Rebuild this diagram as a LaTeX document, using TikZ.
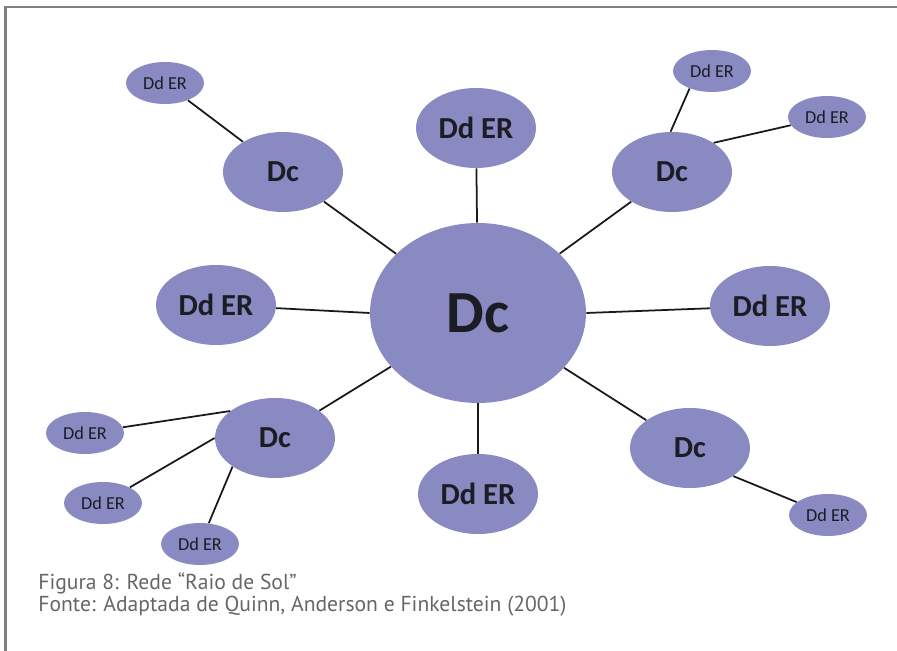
\documentclass[tikz,border=0pt]{standalone}
\usepackage{fontspec}
\setmainfont{Carlito}
\newfontfamily\capfont{PT Sans}
\usetikzlibrary{shapes.geometric}
\definecolor{sol}{RGB}{138,138,194}
\definecolor{ink}{RGB}{28,28,36}
\tikzset{>=latex,
  blob/.style={ellipse, fill=sol, inner sep=0pt, text=ink},
  hub/.style={blob, minimum width=4.32cm, minimum height=3.6cm, font=\fontsize{34}{34}\bfseries},
  mid/.style={blob, minimum width=2.4cm, minimum height=1.6cm, font=\fontsize{17.4}{18}\bfseries},
  leaf/.style={blob, minimum width=1.56cm, minimum height=0.84cm, font=\fontsize{10.4}{11}\selectfont},
  ray/.style={draw=black!90, line width=1pt},
  caption/.style={anchor=base west, text=black!60, font=\capfont\fontsize{12.3}{13}\selectfont, inner sep=0pt}}

\begin{document}
\begin{tikzpicture}[x=0.02cm, y=-0.02cm]
\useasboundingbox (0,0) rectangle (897,651);
\draw[gray, line width=1.3pt] (897,7) -- (5.5,7) -- (5.5,651);
\node[hub] (dc) at (478,313) {Dc};
\node[mid] (top) at (476,128) {Dd ER};
\node[mid] (left) at (216,305) {Dd ER};
\node[mid] (right) at (770,306) {Dd ER};
\node[mid] (bottom) at (478,494) {Dd ER};
\node[mid] (dctl) at (283,172) {Dc};
\node[mid] (dctr) at (672,172) {Dc};
\node[mid] (dcbl) at (275,438) {Dc};
\node[mid] (dcbr) at (690,448) {Dc};
\node[leaf] (tl) at (165,83) {Dd ER};
\node[leaf] (tra) at (712,71) {Dd ER};
\node[leaf] (trb) at (827,117) {Dd ER};
\node[leaf] (bla) at (85,433) {Dd ER};
\node[leaf] (blb) at (103,503) {Dd ER};
\node[leaf] (blc) at (200,544) {Dd ER};
\node[leaf] (br) at (828,515) {Dd ER};
\draw[ray] (dc) -- (top);
\draw[ray] (dc.west) -- (left);
\draw[ray] (dc.east) -- (right);
\draw[ray] (dc) -- (bottom);
\draw[ray] (dc) -- (dctl);
\draw[ray] (dc) -- (dctr);
\draw[ray] (dc) -- (dcbl);
\draw[ray] (dc) -- (dcbr);
\draw[ray] (dctl) -- (tl);
\draw[ray] (dctr.92) -- (tra.218);
\draw[ray] (dctr.35) -- (trb);
\draw[ray] (dcbl.149) -- (bla);
\draw[ray] (dcbl.west) -- (blb);
\draw[ray] (dcbl.214) -- (blc);
\draw[ray] (dcbr.-33) -- (br);
\node[caption] (fig) at (38,590) {Figura 8: Rede “Raio de Sol”};
\node[caption] (src) at (38,612) {Fonte: Adaptada de Quinn, Anderson e Finkelstein (2001)};
\end{tikzpicture}
\end{document}
